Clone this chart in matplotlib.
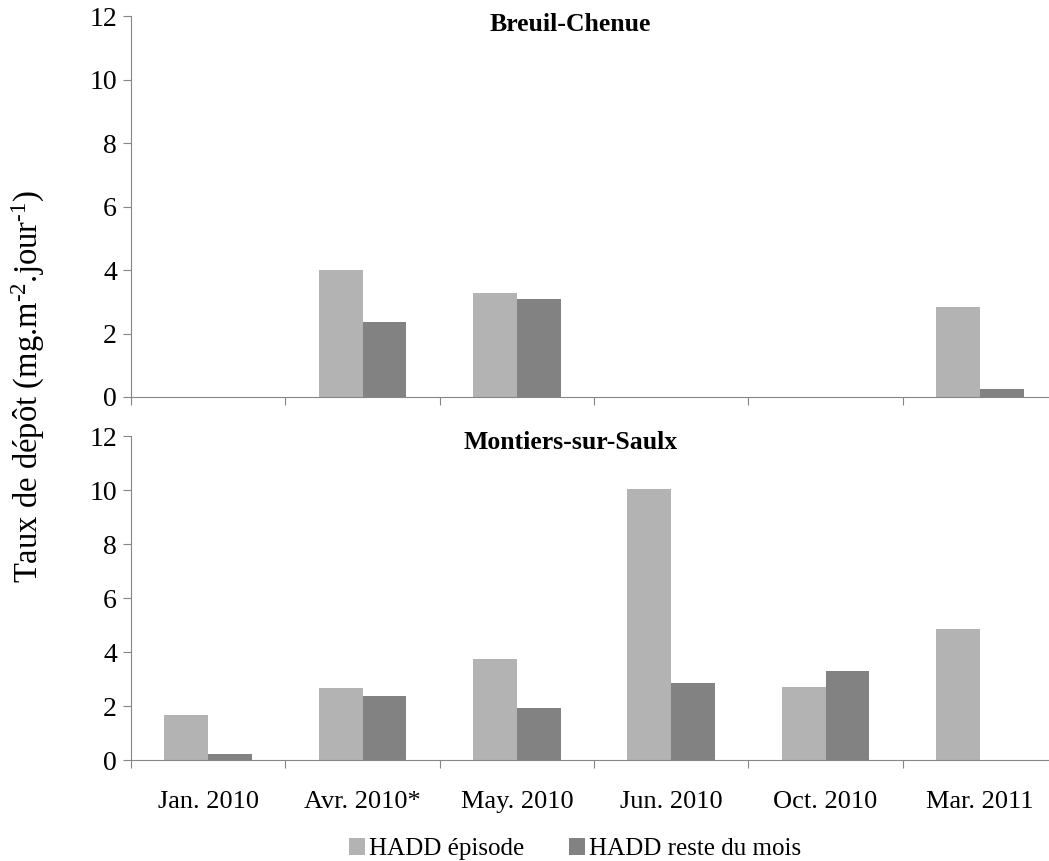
import numpy as np
import matplotlib.pyplot as plt

plt.rcParams['font.family'] = ['Liberation Serif', 'DejaVu Serif']
plt.rcParams['mathtext.fontset'] = 'custom'
plt.rcParams['mathtext.rm'] = 'Liberation Serif'
plt.rcParams['mathtext.it'] = 'Liberation Serif'

# Données
mois = ['Jan. 2010', 'Avr. 2010*', 'May. 2010', 'Jun. 2010', 'Oct. 2010', 'Mar. 2011']
series = ['HADD épisode', 'HADD reste du mois']

breuil_episode = [0, 4.0, 3.27, 0, 0, 2.85]
breuil_reste = [0, 2.35, 3.1, 0, 0, 0.25]

montiers_episode = [1.67, 2.65, 3.74, 10.03, 2.70, 4.85]
montiers_reste = [0.22, 2.37, 1.93, 2.85, 3.30, 0]

couleurs = ['#b3b3b3', '#828282']
gris = '#868686'

fig = plt.figure(figsize=(10.49, 8.61), dpi=100)
ax1 = fig.add_axes([131/1049, 1 - 397/861, 918/1049, 381/861])
ax2 = fig.add_axes([131/1049, 1 - 760/861, 918/1049, 324/861])

x = np.arange(len(mois))
w = 0.285

def panneau(ax, ep, re, titre, labels):
    ax.bar(x - w/2, ep, w, color=couleurs[0], label=series[0])
    ax.bar(x + w/2, re, w, color=couleurs[1], label=series[1])
    ax.set_xlim(-0.5, 5.5 - 8/154.3)
    ax.set_ylim(0, 12)
    ax.set_yticks(range(0, 13, 2))
    ax.set_xticks(np.arange(-0.5, 5.5, 1.0))
    ax.set_xticklabels([])
    ax.set_xticks(x, minor=True)
    if labels:
        ax.set_xticklabels(mois, minor=True, fontsize=19)
    ax.tick_params(axis='x', which='minor', length=0, pad=22)
    ax.tick_params(axis='x', which='major', length=6, color=gris)
    ax.tick_params(axis='y', length=6, color=gris, labelsize=20, pad=4)
    for s in ['top', 'right']:
        ax.spines[s].set_visible(False)
    for s in ['left', 'bottom']:
        ax.spines[s].set_color(gris)
    ax.text(0.479, 0.979, titre, transform=ax.transAxes, ha='center', va='center',
            fontsize=18.5, fontweight='bold')

panneau(ax1, breuil_episode, breuil_reste, 'Breuil-Chenue', False)
panneau(ax2, montiers_episode, montiers_reste, 'Montiers-sur-Saulx', True)

fig.text(28/1049, 1 - 386/861, 'Taux de dépôt (mg.m$^{\u20102}$.jour$^{\u20101}$)',
         rotation=90, ha='center', va='center', fontsize=23.5)

h, l = ax2.get_legend_handles_labels()
fig.legend(h, l, loc='center', bbox_to_anchor=(575/1049, 1 - 849/861), ncol=2,
           frameon=False, fontsize=18, handlelength=0.65, handleheight=0.65,
           handletextpad=0.15, columnspacing=1.8)

fig.savefig('out.png', dpi=100)
